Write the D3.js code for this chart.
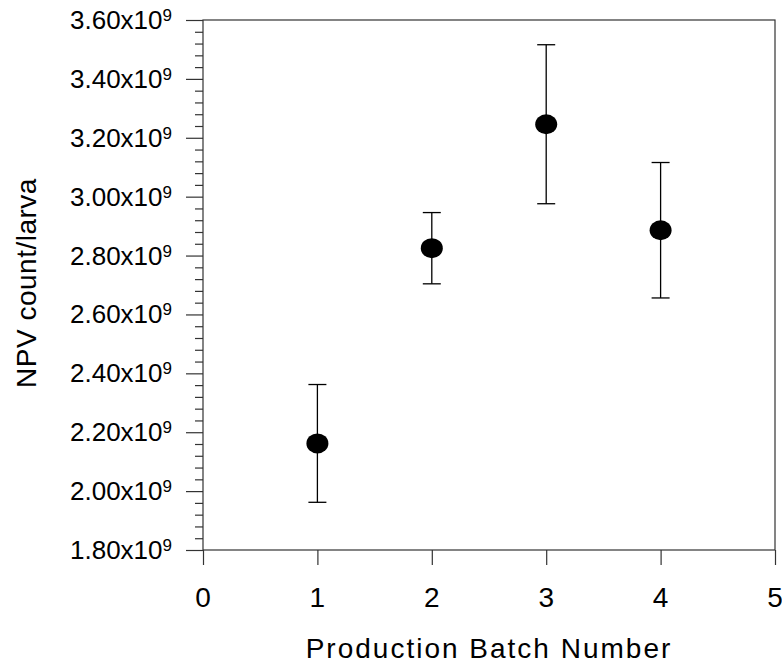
<!DOCTYPE html>
<html>
<head>
<meta charset="utf-8">
<script src="https://cdn.jsdelivr.net/npm/d3@7"></script>
<style>
  html, body { margin: 0; padding: 0; background: #fff; }
  svg { display: block; font-family: "Liberation Sans", Arial, sans-serif; }
</style>
</head>
<body>
<svg id="chart" width="782" height="664"></svg>
<script>
// Production batches and NPV yield per larva (mean ± error)
const batches = [1, 2, 3, 4];
const npvMean = [2.162e9, 2.825e9, 3.246e9, 2.886e9];
const npvError = [0.200e9, 0.121e9, 0.270e9, 0.230e9];

// Axis ticks
const xTicks = [0, 1, 2, 3, 4, 5];
const yTicks = [1.8e9, 2.0e9, 2.2e9, 2.4e9, 2.6e9, 2.8e9, 3.0e9, 3.2e9, 3.4e9, 3.6e9];
const yTickLabels = ["1.80", "2.00", "2.20", "2.40", "2.60", "2.80", "3.00", "3.20", "3.40", "3.60"];

const svg = d3.select("#chart");
const plotL = 203, plotR = 775, plotT = 20, plotB = 550;

const x = d3.scaleLinear().domain([0, 5]).range([plotL, plotR]);
const y = d3.scaleLinear().domain([1.8e9, 3.6e9]).range([plotB, plotT]);

const axisColor = "#333";

// Frame
svg.append("rect")
  .attr("x", plotL).attr("y", plotT)
  .attr("width", plotR - plotL).attr("height", plotB - plotT)
  .attr("fill", "none").attr("stroke", axisColor).attr("stroke-width", 1.2);

// Y minor ticks (4 between majors)
const yMinor = d3.range(1.8e9, 3.6e9 + 1, 0.04e9).filter(v => Math.abs((v / 0.2e9) - Math.round(v / 0.2e9)) > 1e-6);
const gyMinor = svg.append("g").attr("transform", `translate(${plotL},0)`)
  .call(d3.axisLeft(y).tickValues(yMinor).tickSize(8).tickFormat(""));
gyMinor.select(".domain").remove();
gyMinor.selectAll("line").attr("stroke", axisColor).attr("stroke-width", 1.2);

// Y major ticks
const gy = svg.append("g").attr("transform", `translate(${plotL},0)`)
  .call(d3.axisLeft(y).tickValues(yTicks).tickSize(17).tickFormat(""));
gy.select(".domain").remove();
gy.selectAll("line").attr("stroke", axisColor).attr("stroke-width", 1.2);

// Y tick labels with superscript exponent
const yl = svg.append("g").selectAll("text")
  .data(yTicks)
  .join("text")
  .attr("x", 172)
  .attr("y", d => y(d) + 9)
  .attr("text-anchor", "end")
  .attr("font-size", 26)
  .attr("fill", "#000");
yl.append("tspan").text((d, i) => yTickLabels[i] + "x10");
yl.append("tspan").attr("font-size", 17).attr("dy", -8).text("9");

// X ticks
const gx = svg.append("g").attr("transform", `translate(0,${plotB})`)
  .call(d3.axisBottom(x).tickValues(xTicks).tickSize(15).tickFormat(""));
gx.select(".domain").remove();
gx.selectAll("line").attr("stroke", axisColor).attr("stroke-width", 1.2);

svg.append("g").selectAll("text")
  .data(xTicks)
  .join("text")
  .attr("x", d => x(d))
  .attr("y", 607)
  .attr("text-anchor", "middle")
  .attr("font-size", 28)
  .attr("fill", "#000")
  .text(d => d);

// Axis titles
svg.append("text")
  .attr("x", (plotL + plotR) / 2)
  .attr("y", 658)
  .attr("text-anchor", "middle")
  .attr("font-size", 28)
  .attr("letter-spacing", "2px")
  .attr("fill", "#000")
  .text("Production Batch Number");

svg.append("text")
  .attr("transform", "translate(36,283) rotate(-90)")
  .attr("text-anchor", "middle")
  .attr("font-size", 28)
  .attr("letter-spacing", "0.5px")
  .attr("fill", "#000")
  .text("NPV count/larva");

// Error bars
const data = batches.map((b, i) => ({ b, m: npvMean[i], e: npvError[i] }));
const eb = svg.append("g").attr("stroke", "#000").attr("stroke-width", 1.3);
eb.selectAll(".stem").data(data).join("line").attr("class", "stem")
  .attr("x1", d => x(d.b)).attr("x2", d => x(d.b))
  .attr("y1", d => y(d.m + d.e)).attr("y2", d => y(d.m - d.e));
eb.selectAll(".capTop").data(data).join("line").attr("class", "capTop")
  .attr("x1", d => x(d.b) - 9).attr("x2", d => x(d.b) + 9)
  .attr("y1", d => y(d.m + d.e)).attr("y2", d => y(d.m + d.e));
eb.selectAll(".capBot").data(data).join("line").attr("class", "capBot")
  .attr("x1", d => x(d.b) - 9).attr("x2", d => x(d.b) + 9)
  .attr("y1", d => y(d.m - d.e)).attr("y2", d => y(d.m - d.e));

// Markers
svg.append("g").selectAll("ellipse").data(data).join("ellipse")
  .attr("cx", d => x(d.b)).attr("cy", d => y(d.m))
  .attr("rx", 11).attr("ry", 10)
  .attr("fill", "#000");
</script>
</body>
</html>
